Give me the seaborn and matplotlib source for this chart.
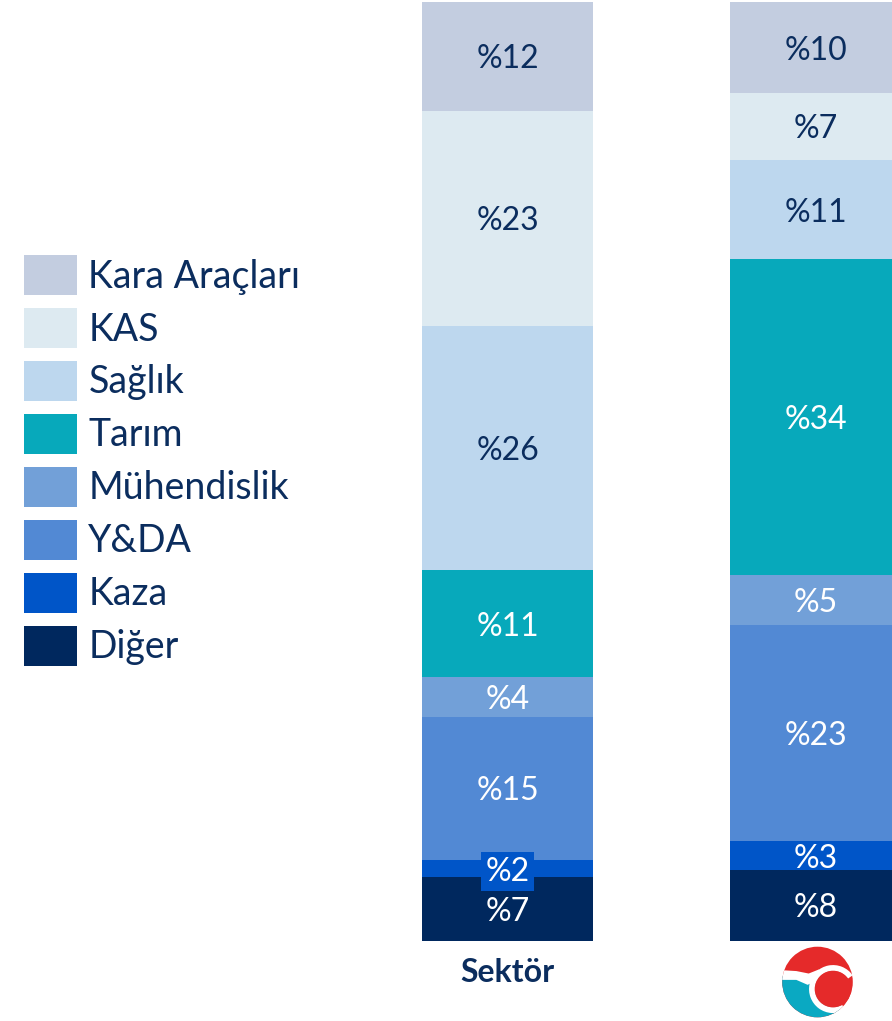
import matplotlib
matplotlib.use("Agg")
import matplotlib.pyplot as plt
import seaborn as sns
import pandas as pd
from matplotlib.patches import Patch, Circle, Wedge, Polygon

# kategoriler yukaridan asagiya
categories = ['Kara Araçları', 'KAS', 'Sağlık', 'Tarım', 'Mühendislik', 'Y&DA', 'Kaza', 'Diğer']
groups = ['Sektör', 'Şirket']
sektor = [11.6, 22.9, 26.0, 11.4, 4.2, 15.3, 1.8, 6.8]
sirket = [9.7, 7.1, 10.6, 33.6, 5.3, 23.1, 3.0, 7.6]
colors = ['#c3cde0', '#ddeaf1', '#bdd7ee', '#07a9bb', '#72a0d8', '#5289d4', '#0055c8', '#00285e']
navy = '#0b2d5e'

sns.set_style("white")
plt.rcParams['font.family'] = ['Lato', 'DejaVu Sans']

rows = []
for g, vals in zip(groups, [sektor, sirket]):
    for i, (c, v) in enumerate(zip(categories, vals)):
        rows.append({'group': g, 'category': c, 'value': v, 'top': sum(vals[i:])})
df = pd.DataFrame(rows)

fig = plt.figure(figsize=(8.92, 10.21), dpi=100)
W, H = 892, 1021
ax = fig.add_axes([422 / W, (H - 941) / H, (892 - 422) / W, 939 / H])

# ustten alta ust uste binen kumulatif cubuklar
for c, col in zip(categories, colors):
    sub = df[df['category'] == c]
    sns.barplot(data=sub, x='group', y='top', color=col, saturation=1,
                width=0.555, errorbar=None, linewidth=0, ax=ax)

ax.set_xlim(-0.2776, 1.248)
ax.set_ylim(0, 100)
ax.set_ylabel('')
ax.set_xlabel('')
ax.set_yticks([])
ax.set_xticks([0, 1])
ax.set_xticklabels(['Sektör', ''], fontsize=23, fontweight='bold', color=navy)
ax.tick_params(axis='x', length=0, pad=12)
for s in ax.spines.values():
    s.set_visible(False)

# yuzde etiketleri
for _, r in df.iterrows():
    xi = groups.index(r['group'])
    ci = categories.index(r['category'])
    y = r['top'] - r['value'] / 2
    tc = navy if ci < 3 else 'white'
    kw = {}
    if r['category'] == 'Kaza' and r['group'] == 'Sektör':
        kw['bbox'] = dict(boxstyle='square,pad=0.14', fc=colors[6], ec='none')
    ax.text(xi, y, f"%{round(r['value'])}", ha='center', va='center_baseline',
            fontsize=23, fontweight='normal', color=tc, **kw)

# lejant
handles = [Patch(facecolor=col, edgecolor='none', label=c) for c, col in zip(categories, colors)]
leg = fig.legend(handles=handles, loc='upper left', bbox_to_anchor=(9 / W, 1 - 240 / H),
                 frameon=False, fontsize=27, handlelength=1.415, handleheight=1.264,
                 handletextpad=0.3, labelspacing=0.345, borderaxespad=0)
for t in leg.get_texts():
    t.set_color(navy)

# logo
lax = fig.add_axes([(817.5 - 36) / W, (H - 982 - 36) / H, 72 / W, 72 / H])
lax.set_xlim(-1.02, 1.02)
lax.set_ylim(-1.02, 1.02)
lax.set_aspect('equal')
lax.axis('off')
red = '#e52a2a'
outer = Circle((0, 0), 1, fc=red, ec='none')
lax.add_patch(outer)
clip = Circle((0, 0), 1, transform=lax.transData)
teal = Wedge((0.44, -0.2), 3, 165, 290, fc='#0aa9c2', ec='none')
ring = Wedge((0.44, -0.2), 0.68, 35, 300, width=0.17, fc='white', ec='none')
tail = Polygon([(-1.1, 0.34), (-0.6, 0.31), (-0.25, 0.24), (0.05, 0.36),
                (0.0, 0.05), (-0.28, -0.08), (-0.6, 0.06), (-1.1, 0.06)],
               closed=True, fc='white', ec='none')
inner = Circle((0.44, -0.2), 0.52, fc=red, ec='none')
for p in [teal, ring, tail, inner]:
    lax.add_patch(p)
    p.set_clip_path(clip)

fig.savefig('out.png', dpi=100)
